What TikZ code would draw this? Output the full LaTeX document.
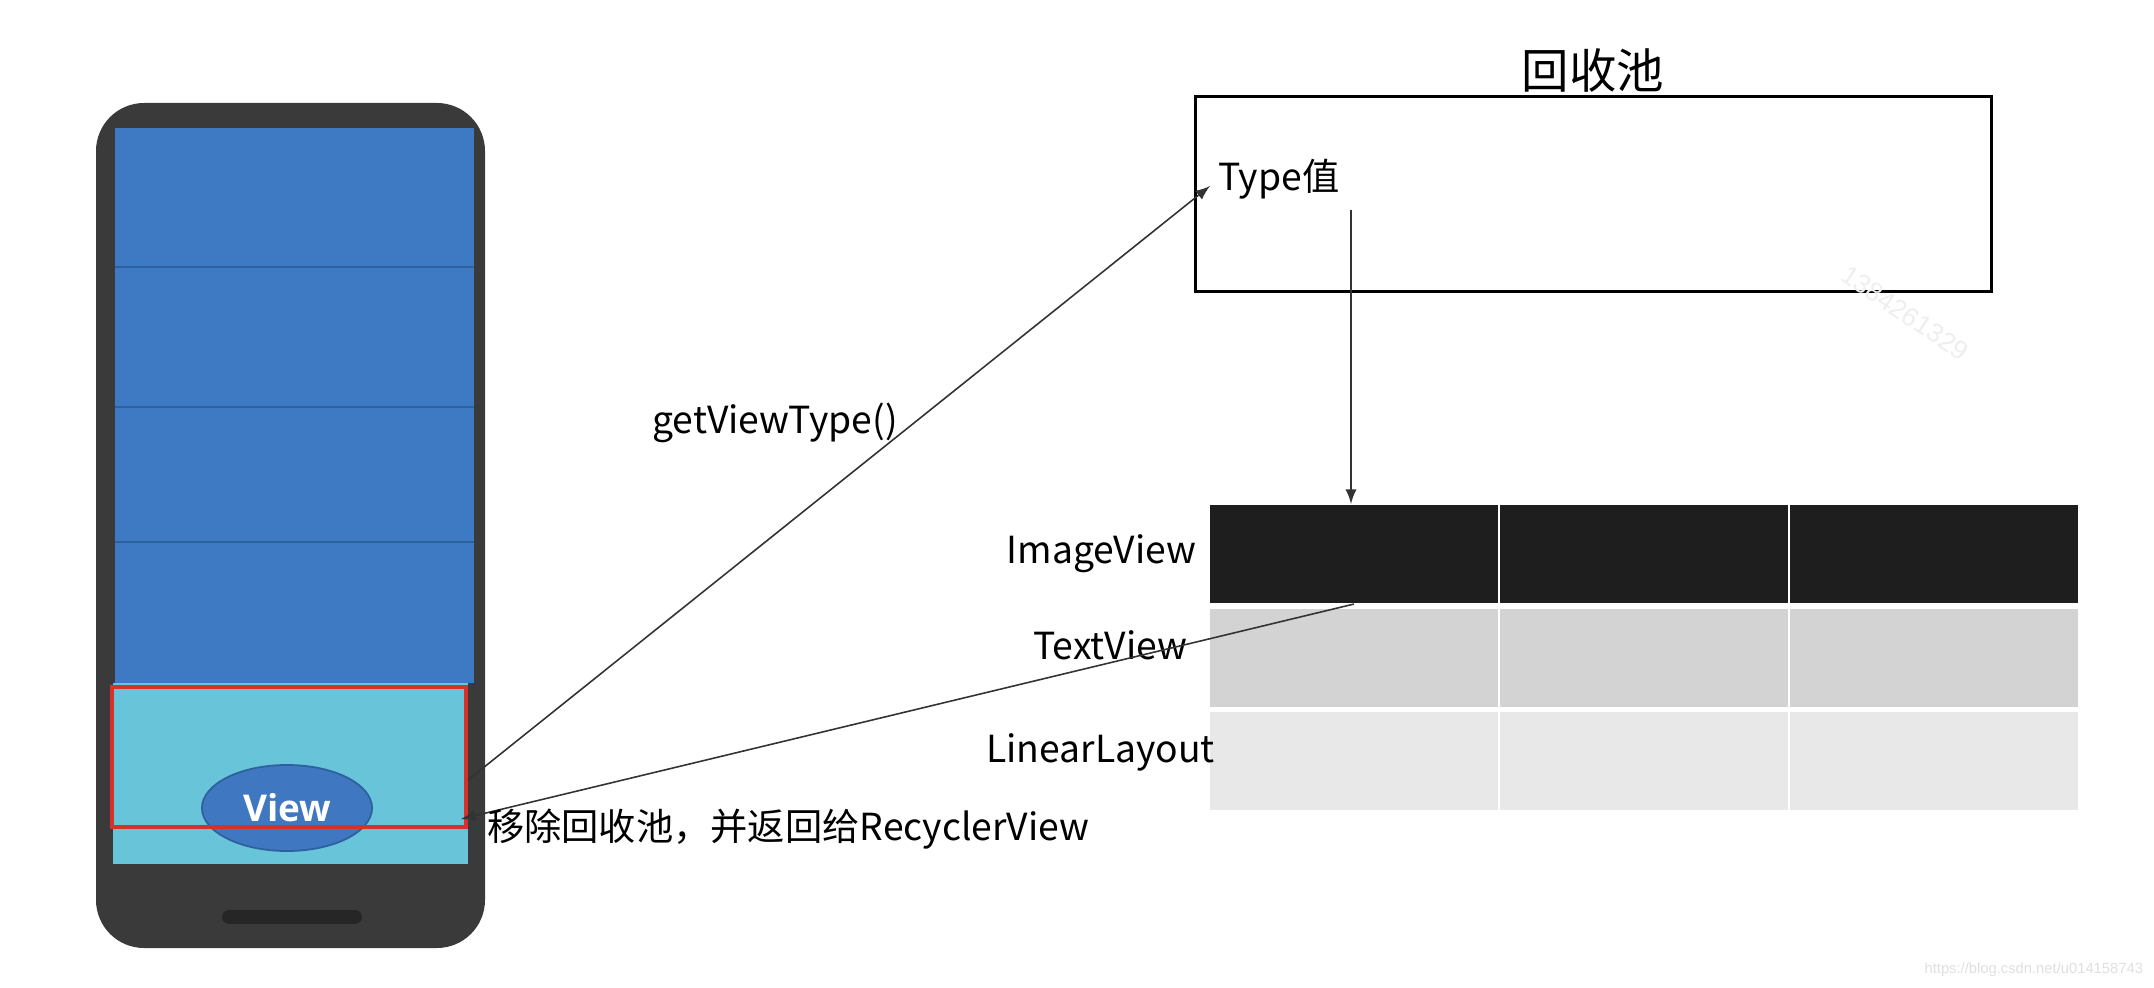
\documentclass[tikz,border=0pt]{standalone}
\usepackage{fontspec}
\setmainfont{Noto Sans CJK SC}
\newfontfamily\viewfont{Open Sans}
\newfontfamily\markfont{Liberation Sans}
\usetikzlibrary{shapes.geometric}
\definecolor{phone}{HTML}{3A3A3A}
\definecolor{screen}{HTML}{3D7AC3}
\definecolor{rowline}{HTML}{2F609E}
\definecolor{cyanrow}{HTML}{67C4D9}
\definecolor{viewblue}{HTML}{3F77C1}
\definecolor{redbox}{HTML}{D8302A}
\definecolor{cellA}{HTML}{1E1E1E}
\definecolor{cellB}{HTML}{D3D3D3}
\definecolor{cellC}{HTML}{E8E8E8}
\begin{document}
\begin{tikzpicture}[x=0.01cm, y=-0.01cm]
\tikzset{ >=latex, inner sep=0pt, outer sep=0pt,
  lbl/.style={font=\fontsize{10.6}{12}\selectfont},
  link/.style={->, draw=black!80, line width=0.45pt},
  cell/.style={minimum width=2.9cm, minimum height=1.0cm, draw=white, line width=0.7pt},
}
\useasboundingbox (0,0) rectangle (2154,988);

% phone
\fill [phone, rounded corners=0.48cm] (96,103) rectangle (485,948);
\fill [screen] (115,128) rectangle (474,683);
\foreach \y in {267,407,542}
  \draw [rowline, line width=0.6pt] (115,\y) -- (474,\y);
\fill [cyanrow] (113,683) rectangle (468,864);
\draw [black!85, line width=4pt, line cap=round] (229,917) -- (355,917);

\node [ellipse, fill=viewblue, draw=rowline, line width=0.5pt,
       minimum width=1.7cm, minimum height=0.86cm, text=white,
       font=\viewfont\bfseries\fontsize{10.5}{12}\selectfont] (view) at (287,808) {View};
\draw [redbox, line width=1.4pt] (112,687) rectangle (466,827);

\coordinate (out)  at (468,780);
\coordinate (back) at (461,819);

% pool
\node [font=\fontsize{13.5}{15}\selectfont] (title) at (1593,70) {回收池};
\node [draw, line width=0.85pt, minimum width=7.95cm, minimum height=1.94cm] (pool) at (1593.5,194) {};
\node [lbl, anchor=west] (type) at (1218,179) {Type值};
\coordinate (typein) at (1210,186);
\coordinate (vtop)   at (1351,210);

% table
\foreach \r/\c/\y in {0/cellA/554, 1/cellB/658, 2/cellC/761}
  \foreach \k/\x in {0/1354, 1/1644, 2/1934}
    \node [cell, fill=\c] (c\r\k) at (\x,\y) {};

\node [lbl, anchor=east] (iv) at (1196,554) {ImageView};
\node [lbl, anchor=east] (tv) at (1187,645) {TextView};
\node [lbl, anchor=east] (ll) at (1215,752) {LinearLayout};

\draw [link] (out) -- (typein);
\draw [link] (vtop) -- (vtop |- c00.north);
\draw [link] (c00.south) -- (back);

\node [lbl] (gvt) at (775,423) {getViewType()};
\node [lbl, anchor=west] (ret) at (487,829) {移除回收池，并返回给RecyclerView};

% watermarks
\node [text=gray!13, rotate=-34, font=\markfont\fontsize{7.5}{9}\selectfont] (wm) at (1905,313) {1384261329};
\node [text=gray!25, anchor=east, font=\markfont\fontsize{4.2}{5}\selectfont] (url) at (2143,970) {https://blog.csdn.net/u014158743};

\end{tikzpicture}
\end{document}
